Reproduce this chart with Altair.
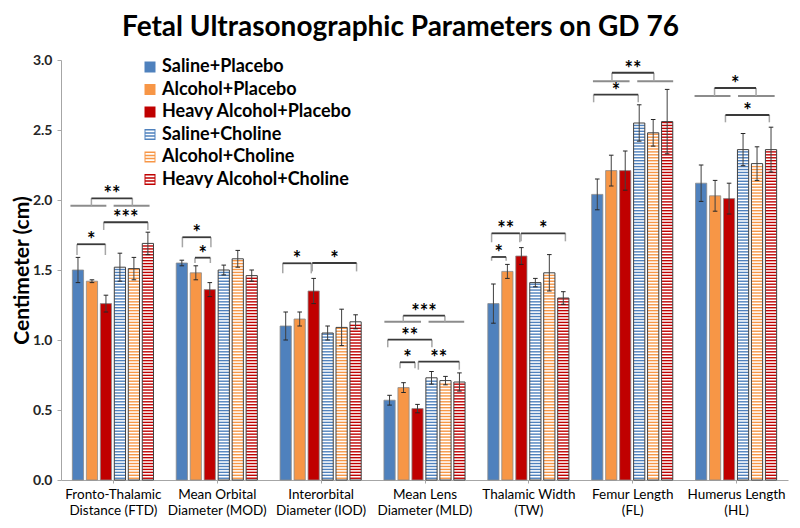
import altair as alt
import numpy as np
import pandas as pd

# ---------------- data ----------------
title_text = "Fetal Ultrasonographic Parameters on GD 76"
y_title = "Centimeter (cm)"
group_codes = ["FTD", "MOD", "IOD", "MLD", "TW", "FL", "HL"]
group_labels = [
    ["Fronto-Thalamic", "Distance (FTD)"],
    ["Mean Orbital", "Diameter (MOD)"],
    ["Interorbital", "Diameter (IOD)"],
    ["Mean Lens", "Diameter (MLD)"],
    ["Thalamic Width", "(TW)"],
    ["Femur Length", "(FL)"],
    ["Humerus Length", "(HL)"],
]
series = ["Saline+Placebo", "Alcohol+Placebo", "Heavy Alcohol+Placebo",
          "Saline+Choline", "Alcohol+Choline", "Heavy Alcohol+Choline"]

mean_saline_placebo = [1.50, 1.55, 1.10, 0.57, 1.26, 2.04, 2.12]
mean_alcohol_placebo = [1.42, 1.48, 1.15, 0.66, 1.49, 2.21, 2.03]
mean_heavy_placebo = [1.26, 1.36, 1.35, 0.51, 1.60, 2.21, 2.01]
mean_saline_choline = [1.52, 1.50, 1.05, 0.73, 1.41, 2.55, 2.36]
mean_alcohol_choline = [1.51, 1.58, 1.09, 0.71, 1.48, 2.48, 2.26]
mean_heavy_choline = [1.69, 1.46, 1.13, 0.70, 1.30, 2.56, 2.36]

err_saline_placebo = [0.09, 0.02, 0.10, 0.035, 0.14, 0.11, 0.13]
err_alcohol_placebo = [0.01, 0.05, 0.05, 0.035, 0.05, 0.11, 0.11]
err_heavy_placebo = [0.06, 0.05, 0.09, 0.03, 0.06, 0.14, 0.11]
err_saline_choline = [0.10, 0.035, 0.05, 0.045, 0.03, 0.13, 0.115]
err_alcohol_choline = [0.08, 0.06, 0.13, 0.03, 0.13, 0.095, 0.12]
err_heavy_choline = [0.08, 0.04, 0.05, 0.065, 0.045, 0.23, 0.16]

# significance brackets: group, from bar index, to bar index, top (cm), leg end (cm), label
br_group = [0, 0, 0, 1, 1, 2, 2, 3, 3, 3, 3, 4, 4, 4, 5, 5, 6, 6]
br_from = [0.96, 1.84, -0.07, 0.04, 0.94, -0.21, 1.90, 0.98, -0.13, 0.75, 2.06, -0.13, -0.13, 1.98, 1.05, -0.26, 0.96, 1.74]
br_to = [3.89, 5.00, 1.96, 2.08, 2.04, 1.83, 5.07, 3.96, 3.03, 1.82, 4.99, 1.89, 0.91, 5.15, 4.05, 2.93, 3.93, 4.88]
br_top = [2.012, 1.841, 1.684, 1.734, 1.588, 1.548, 1.550, 1.174, 1.002, 0.841, 0.845, 1.762, 1.593, 1.762, 2.909, 2.752, 2.800, 2.607]
br_leg = [1.959, 1.786, 1.607, 1.662, 1.550, 1.476, 1.490, 1.131, 0.948, 0.798, 0.788, 1.698, 1.566, 1.705, 2.848, 2.698, 2.743, 2.555]
br_label = ["**", "***", "*", "*", "*", "*", "*", "***", "**", "*", "**", "**", "*", "*", "**", "*", "*", "*"]

# group-comparison base lines: group, from bar index, to bar index, level (cm)
hl_group = [0, 0, 3, 3, 5, 5, 6, 6]
hl_from = [-0.54, 2.55, -0.37, 2.79, -0.31, 2.86, -0.47, 2.64]
hl_to = [2.03, 5.12, 2.25, 5.34, 2.31, 5.43, 2.10, 5.26]
hl_y = [1.959, 1.959, 1.131, 1.131, 2.848, 2.848, 2.743, 2.743]

# ---------------- layout / style ----------------
GROUP_OFFSET = 0.1635
PITCH = 0.1346
BAR_W = 0.108
CAP_W = 0.022
STRIPE_STEP = 0.021
FONT = "Lato"

base_colors = ["#4f81bd", "#f79646", "#c00000", "#4f81bd", "#f79646", "#c00000"]
stripe_path = ("M-1,-1H1V1H-1Z M-0.82,-0.82V0.82H0.82V-0.82Z "
               "M-1,-1H1V-0.714H-1Z M-1,-0.429H1V-0.143H-1Z "
               "M-1,0.143H1V0.429H-1Z M-1,0.714H1V1H-1Z")
shapes = ["square", "square", "square", stripe_path, stripe_path, stripe_path]

all_means = [mean_saline_placebo, mean_alcohol_placebo, mean_heavy_placebo,
             mean_saline_choline, mean_alcohol_choline, mean_heavy_choline]
all_errs = [err_saline_placebo, err_alcohol_placebo, err_heavy_placebo,
            err_saline_choline, err_alcohol_choline, err_heavy_choline]


def bar_x(g, i):
    return g + GROUP_OFFSET + PITCH * i


rows = []
for si, s in enumerate(series):
    for g in range(len(group_codes)):
        m = all_means[si][g]
        e = all_errs[si][g]
        xc = bar_x(g, si)
        rows.append(dict(series=s, group=group_codes[g], mean=m, err=e, xc=xc,
                         xl=xc - BAR_W / 2, xr=xc + BAR_W / 2, lo=m - e, hi=m + e,
                         half=m / 2, cl=xc - CAP_W, cr=xc + CAP_W, choline=si >= 3))
bars = pd.DataFrame(rows)

stripe_rows = []
for _, r in bars[bars.choline].iterrows():
    for yv in np.arange(STRIPE_STEP * 0.6, r["mean"] - STRIPE_STEP * 0.3, STRIPE_STEP):
        stripe_rows.append(dict(series=r["series"], xl=r["xl"], xr=r["xr"], ys=float(yv)))
stripes = pd.DataFrame(stripe_rows)

br = pd.DataFrame(dict(
    x1=[bar_x(g, a) for g, a in zip(br_group, br_from)],
    x2=[bar_x(g, b) for g, b in zip(br_group, br_to)],
    top=br_top, leg=br_leg, label=br_label))
br["xm"] = (br.x1 + br.x2) / 2
legs = pd.concat([
    pd.DataFrame(dict(x=br.x1, top=br.top, leg=br.leg)),
    pd.DataFrame(dict(x=br.x2, top=br.top, leg=br.leg)),
])
hls = pd.DataFrame(dict(
    x1=[bar_x(g, a) for g, a in zip(hl_group, hl_from)],
    x2=[bar_x(g, b) for g, b in zip(hl_group, hl_to)],
    y=hl_y))

# ---------------- chart ----------------
xscale = alt.Scale(domain=[0, 7], nice=False, zero=False)
yscale = alt.Scale(domain=[0, 3], nice=False)
cscale = alt.Scale(domain=series, range=base_colors)
sscale = alt.Scale(domain=series, range=shapes)

label_js = "[" + ",".join("['" + a + "','" + b + "']" for a, b in group_labels) + "]"
x_axis = alt.Axis(values=[g + 0.5 for g in range(7)],
                  labelExpr=label_js + "[floor(datum.value)]",
                  title=None, grid=False, domainColor="#a6a6a6", tickColor="#a6a6a6",
                  tickSize=3, labelFont=FONT, labelFontSize=13.5, labelColor="black",
                  labelLineHeight=16, labelPadding=4, labelAngle=0, labelFlush=False,
                  labelOverlap=False)
y_axis = alt.Axis(values=[0, 0.5, 1.0, 1.5, 2.0, 2.5, 3.0], format=".1f",
                  title=y_title, titleFont=FONT, titleFontSize=21, titleFontWeight="bold",
                  titleColor="black", titlePadding=0, grid=False,
                  domainColor="#a6a6a6", tickColor="#a6a6a6", tickSize=4,
                  labelFont=FONT, labelFontSize=14, labelFontWeight="bold",
                  labelColor="#262626", labelPadding=5)

legend = alt.Legend(title=None, orient="none", legendX=80, legendY=-2,
                    symbolSize=121, symbolStrokeWidth=0, labelFont=FONT,
                    labelFontSize=18, labelFontWeight="bold", labelColor="black",
                    labelLimit=400, rowPadding=4.5, labelOffset=3, padding=0)


def X(field):
    return alt.X(field, type="quantitative", scale=xscale)


def Y(field):
    return alt.Y(field, type="quantitative", scale=yscale)


legend_pts = alt.Chart(bars).mark_point(filled=True, size=100, opacity=1).encode(
    x=alt.X("xc:Q", scale=xscale, axis=x_axis),
    y=alt.Y("half:Q", scale=yscale, axis=y_axis),
    color=alt.Color("series:N", scale=cscale, legend=legend),
    shape=alt.Shape("series:N", scale=sscale, legend=legend),
)

placebo_bars = alt.Chart(bars[~bars.choline]).mark_rect(stroke="#8c8c8c", strokeWidth=0.8).encode(
    x=X("xl"), x2="xr", y=Y("mean"), y2=alt.datum(0),
    color=alt.Color("series:N", scale=cscale, legend=None),
)
choline_bg = alt.Chart(bars[bars.choline]).mark_rect(fill="white").encode(
    x=X("xl"), x2="xr", y=Y("mean"), y2=alt.datum(0),
)
stripe_layer = alt.Chart(stripes).mark_rule(strokeWidth=1.4).encode(
    x=X("xl"), x2="xr", y=Y("ys"),
    color=alt.Color("series:N", scale=cscale, legend=None),
)
choline_outline = alt.Chart(bars[bars.choline]).mark_rect(
    fillOpacity=0, stroke="#404040", strokeWidth=1).encode(
    x=X("xl"), x2="xr", y=Y("mean"), y2=alt.datum(0),
)
err_lines = alt.Chart(bars).mark_rule(color="#404040", strokeWidth=1).encode(
    x=X("xc"), y=Y("lo"), y2="hi")
caps_lo = alt.Chart(bars).mark_rule(color="#262626", strokeWidth=1).encode(
    x=X("cl"), x2="cr", y=Y("lo"))
caps_hi = alt.Chart(bars).mark_rule(color="#262626", strokeWidth=1).encode(
    x=X("cl"), x2="cr", y=Y("hi"))

base_lines = alt.Chart(hls).mark_rule(color="#8c8c8c", strokeWidth=2).encode(
    x=X("x1"), x2="x2", y=Y("y"))
leg_lines = alt.Chart(legs).mark_rule(color="#a6a6a6", strokeWidth=1.5).encode(
    x=X("x"), y=Y("leg"), y2="top")
top_lines = alt.Chart(br).mark_rule(color="#3a3a3a", strokeWidth=1.8).encode(
    x=X("x1"), x2="x2", y=Y("top"))
stars = alt.Chart(br).mark_text(font=FONT, fontSize=20, fontWeight="bold", color="black",
                                baseline="alphabetic", dy=3).encode(
    x=X("xm"), y=Y("top"), text="label:N")

chart = alt.layer(
    legend_pts, placebo_bars, choline_bg, stripe_layer, choline_outline,
    err_lines, caps_lo, caps_hi, base_lines, leg_lines, top_lines, stars,
).properties(
    width=727, height=420,
    title=alt.TitleParams(title_text, font=FONT, fontSize=28, fontWeight="bold",
                          color="black", anchor="middle", offset=11, dx=-24),
    autosize=alt.AutoSizeParams(type="none"),
    padding={"left": 53, "top": 52, "right": 4, "bottom": 40},
).configure(background="white").configure_view(stroke=None)

chart.save("out.html", embed_options={"renderer": "svg", "actions": False})
